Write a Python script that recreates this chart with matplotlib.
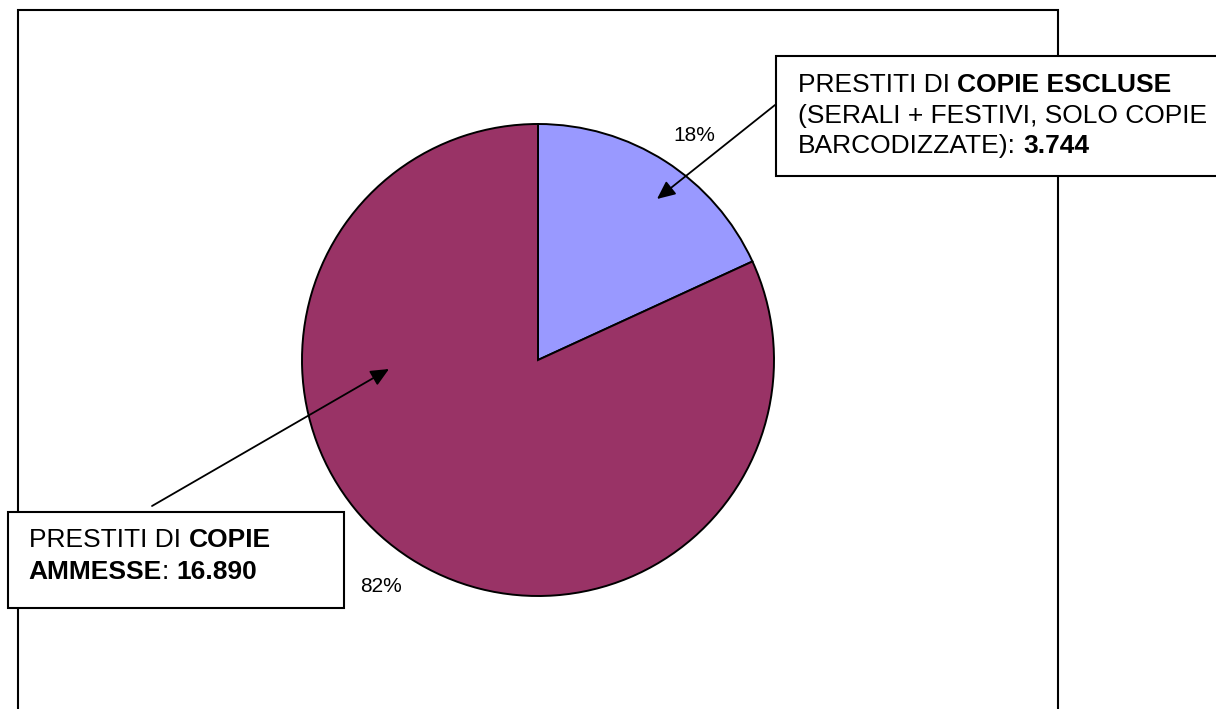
import matplotlib
matplotlib.use("Agg")
import matplotlib.pyplot as plt
from matplotlib.patches import Rectangle

plt.rcParams["font.family"] = ["Liberation Sans", "DejaVu Sans"]

# prestiti per tipo di copia
categories = ["COPIE ESCLUSE", "COPIE AMMESSE"]
loans = [3744, 16890]
colors = ["#9999FF", "#993366"]

W, H = 1216, 709


def fmt_it(n):
    return f"{n:,}".replace(",", ".")


def py(y):
    # pixel row (from top) -> data y
    return H - y


fig = plt.figure(figsize=(W / 100, H / 100), dpi=100)
ax = fig.add_axes([0, 0, 1, 1])

wedges, _ = ax.pie(loans, colors=colors, startangle=90, counterclock=False,
                   center=(538, py(360)), radius=236,
                   wedgeprops=dict(edgecolor="black", linewidth=1.4))
ax.set_xlim(0, W)
ax.set_ylim(0, H)
ax.set_aspect("auto")
ax.axis("off")

# chart area border
ax.add_patch(Rectangle((18, py(H + 20)), 1040, H + 20 - 10, fill=False,
                       edgecolor="black", linewidth=1.5, zorder=0))

total = sum(loans)
pcts = [f"{v / total * 100:.0f}%" for v in loans]
ax.text(673, py(141), pcts[0], fontsize=15, ha="left", va="baseline")
ax.text(360, py(592), pcts[1], fontsize=15, ha="left", va="baseline")

# callout boxes
ax.add_patch(Rectangle((776, py(176)), 500, 120, facecolor="white",
                       edgecolor="black", linewidth=1.5, zorder=3))
ax.add_patch(Rectangle((8, py(608)), 336, 96, facecolor="white",
                       edgecolor="black", linewidth=1.5, zorder=3))

fig.canvas.draw()
renderer = fig.canvas.get_renderer()
FS = 19


def text_width(s, weight):
    t = ax.text(0, 0, s, fontsize=FS, weight=weight)
    w = t.get_window_extent(renderer).width
    t.remove()
    return w


space_w = text_width("I I", "normal") - text_width("II", "normal")


def rich_line(x, y, parts):
    for s, weight in parts:
        if s == " ":
            x += space_w
            continue
        t = ax.text(x, py(y), s, fontsize=FS, weight=weight,
                    ha="left", va="baseline", zorder=4)
        x += t.get_window_extent(renderer).width


rich_line(798, 92, [("PRESTITI DI", "normal"), (" ", None),
                    (categories[0], "bold")])
rich_line(798, 122.5, [("(SERALI + FESTIVI, SOLO COPIE", "normal")])
rich_line(798, 153, [("BARCODIZZATE):", "normal"), (" ", None),
                     (fmt_it(loans[0]), "bold")])

name2 = categories[1].split()
rich_line(29, 547, [("PRESTITI DI", "normal"), (" ", None),
                    (name2[0], "bold")])
rich_line(28, 579, [(name2[1], "bold"), (":", "normal"), (" ", None),
                    (fmt_it(loans[1]), "bold")])

arrow = dict(arrowstyle="-|>,head_length=1.1,head_width=0.5",
             color="black", linewidth=1.3, shrinkA=0, shrinkB=0)
ax.annotate("", xy=(657, py(199)), xytext=(775, py(105)), arrowprops=arrow,
            zorder=5)
ax.annotate("", xy=(389, py(369)), xytext=(152, py(506)), arrowprops=arrow,
            zorder=5)

fig.savefig("out.png", dpi=100)
